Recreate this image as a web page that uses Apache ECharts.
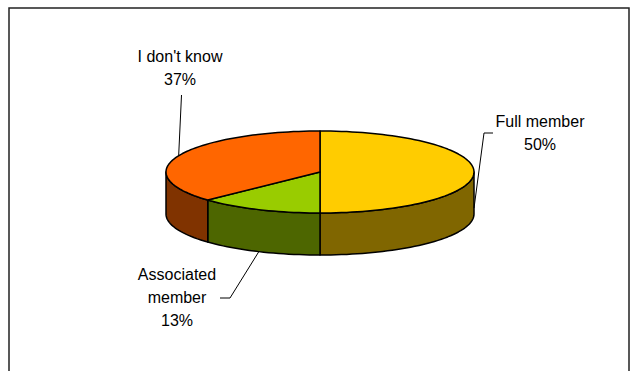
<!DOCTYPE html>
<html>
<head>
<meta charset="utf-8">
<script src="https://cdn.jsdelivr.net/npm/echarts@6/dist/echarts.min.js"></script>
<style>
html,body{margin:0;padding:0;background:#fff;}
#chart{width:632px;height:371px;}
</style>
</head>
<body>
<div id="chart"></div>
<script>
// ---- data ----
const categories = ['Full member', 'Associated member', "I don't know"];
const labelNames = ['Full member', 'Associated\nmember', "I don't know"];
const values = [50, 13, 37];
const topColors = ['#FFCC00', '#99CC00', '#FF6600'];
const sideColors = ['#806600', '#4D6600', '#803300'];

// ---- layout (styles / positions) ----
const CX = 320, CY = 172, RX = 154, RY = 41, DEPTH = 42;
const FONT = 'Liberation Sans, Arial, sans-serif';
// label centers and leader-line start/elbow points (layout only)
const labelLayout = [
  { x: 540, y: 133, lead: [[493, 133], [484, 133]], drop: 0.86 },
  { x: 177, y: 297, lead: [[220, 298], [230, 298]], drop: 1 },
  { x: 180, y: 68,  lead: [[181.5, 95]], drop: 0 }
];

const total = values.reduce((a, b) => a + b, 0);
const starts = [];
{ let acc = 0; values.forEach(v => { starts.push(acc); acc += v; }); }

function pt(deg, dy) {
  const r = deg * Math.PI / 180;
  return [CX + RX * Math.sin(r), CY - RY * Math.cos(r) + (dy || 0)];
}

function renderItem(params, api) {
  const i = params.dataIndex;
  const v = api.value(0);
  const a0 = starts[i] / total * 360;
  const a1 = a0 + v / total * 360;
  const children = [];
  // side wall (front half only: 90..270)
  const s = Math.max(a0, 90), e = Math.min(a1, 270);
  if (s < e) {
    const pts = [];
    const n = Math.max(4, Math.ceil((e - s) / 2));
    for (let k = 0; k <= n; k++) pts.push(pt(s + (e - s) * k / n));
    for (let k = n; k >= 0; k--) pts.push(pt(s + (e - s) * k / n, DEPTH));
    children.push({
      type: 'polygon', z2: 1,
      shape: { points: pts },
      style: { fill: sideColors[i], stroke: '#000', lineWidth: 1.5, lineJoin: 'round' }
    });
  }
  // top face
  const tp = [[CX, CY]];
  const n2 = Math.max(4, Math.ceil((a1 - a0) / 2));
  for (let k = 0; k <= n2; k++) tp.push(pt(a0 + (a1 - a0) * k / n2));
  children.push({
    type: 'polygon', z2: 10,
    shape: { points: tp },
    style: { fill: topColors[i], stroke: '#000', lineWidth: 1.5, lineJoin: 'round' }
  });
  // leader line + label
  const mid = (a0 + a1) / 2;
  const L = labelLayout[i];
  const anchor = pt(mid, DEPTH * L.drop);
  children.push({
    type: 'polyline', z2: 20,
    shape: { points: L.lead.concat([anchor]) },
    style: { stroke: '#000', lineWidth: 1, fill: null }
  });
  const pct = Math.round(v / total * 100) + '%';
  children.push({
    type: 'text', z2: 30,
    style: {
      text: labelNames[i] + '\n' + pct,
      x: L.x, y: L.y,
      align: 'center', verticalAlign: 'middle',
      fontSize: 16, fontFamily: FONT, fill: '#000', lineHeight: 23
    }
  });
  return { type: 'group', children: children };
}

const chart = echarts.init(document.getElementById('chart'), null, { renderer: 'svg' });
chart.setOption({
  backgroundColor: '#fff',
  animation: false,
  graphic: [{
    type: 'rect', silent: true,
    shape: { x: 9, y: 8, width: 620, height: 420 },
    style: { fill: null, stroke: '#222', lineWidth: 1.5 }
  }],
  series: [{
    type: 'custom',
    coordinateSystem: 'none',
    silent: true,
    renderItem: renderItem,
    data: values.map((v, i) => ({ name: categories[i], value: [v] }))
  }]
});
</script>
</body>
</html>
